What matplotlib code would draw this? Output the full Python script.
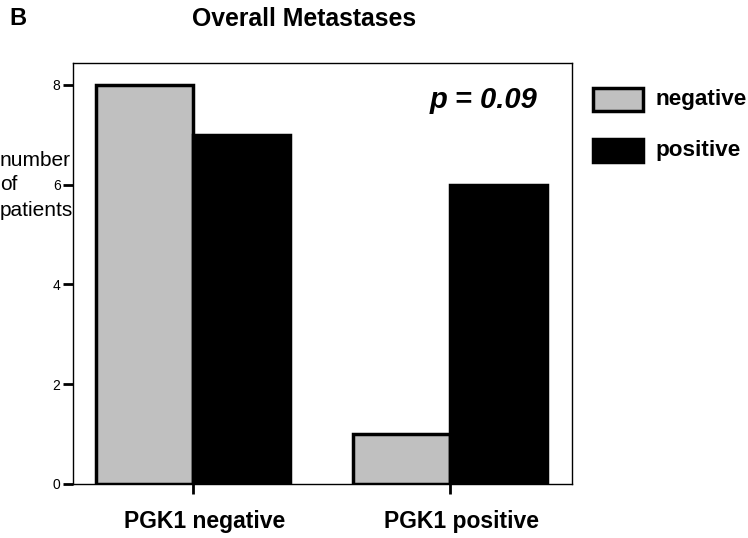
import matplotlib
matplotlib.use("Agg")
import matplotlib.pyplot as plt
import matplotlib.transforms as mtransforms
import numpy as np
from matplotlib.patches import Rectangle

plt.rcParams['font.family'] = ['Liberation Sans', 'DejaVu Sans']

groups = ["PGK1 negative", "PGK1 positive"]
series = ["negative", "positive"]
neg_vals = [8, 1]
pos_vals = [7, 6]
colors = ["#c0c0c0", "#000000"]
ylabel_lines = ["number", "of", "patients"]

fig = plt.figure(figsize=(7.48, 5.38), dpi=100)
ax = fig.add_axes([0.0976, 0.1004, 0.667, 0.7825])

x = np.arange(len(groups))
w = 0.377
ax.bar(x - w / 2, neg_vals, w, color=colors[0], edgecolor="black", linewidth=2.5, zorder=2)
ax.bar(x + w / 2, pos_vals, w, color=colors[1], edgecolor="black", linewidth=2.5, zorder=2)

ax.set_xlim(-0.467, 1.475)
ax.set_ylim(0, 8.44)
ax.set_yticks([0, 2, 4, 6, 8])
ax.set_xticks(x)
ax.set_xticklabels(groups, fontsize=16.5, fontweight="bold")
ax.tick_params(axis="y", direction="out", length=7, width=2, labelsize=10, pad=2)
ax.tick_params(axis="x", direction="out", length=7, width=2, pad=12)
for s in ax.spines.values():
    s.set_linewidth(1)

# labels in the original sit slightly right of the ticks
shift = mtransforms.ScaledTranslation(12 / 100, 0, fig.dpi_scale_trans)
for lbl in ax.get_xticklabels():
    lbl.set_transform(lbl.get_transform() + shift)

ax.text(0.932, 0.912, "p = 0.09", transform=ax.transAxes, fontsize=21,
        fontweight="bold", fontstyle="italic", ha="right", va="center")

for i, line in enumerate(ylabel_lines):
    fig.text(0.0, 1 - (160 + 25 * i) / 538, line, fontsize=15, ha="left", va="center")
fig.text(0.013, 0.965, "B", fontsize=17, fontweight="bold", ha="left", va="center")
fig.text(0.406, 0.965, "Overall Metastases", fontsize=17.8, fontweight="bold",
         ha="center", va="center")

# legend drawn by hand to match layout
leg_y = [0.815, 0.72]
for lab, col, yy in zip(series, colors, leg_y):
    fig.patches.append(Rectangle((0.793, yy - 0.022), 0.066, 0.044, transform=fig.transFigure,
                                 facecolor=col, edgecolor="black", linewidth=2.5))
    fig.text(0.876, yy, lab, fontsize=16.2, fontweight="bold", ha="left", va="center")

fig.savefig("out.png", dpi=100)
